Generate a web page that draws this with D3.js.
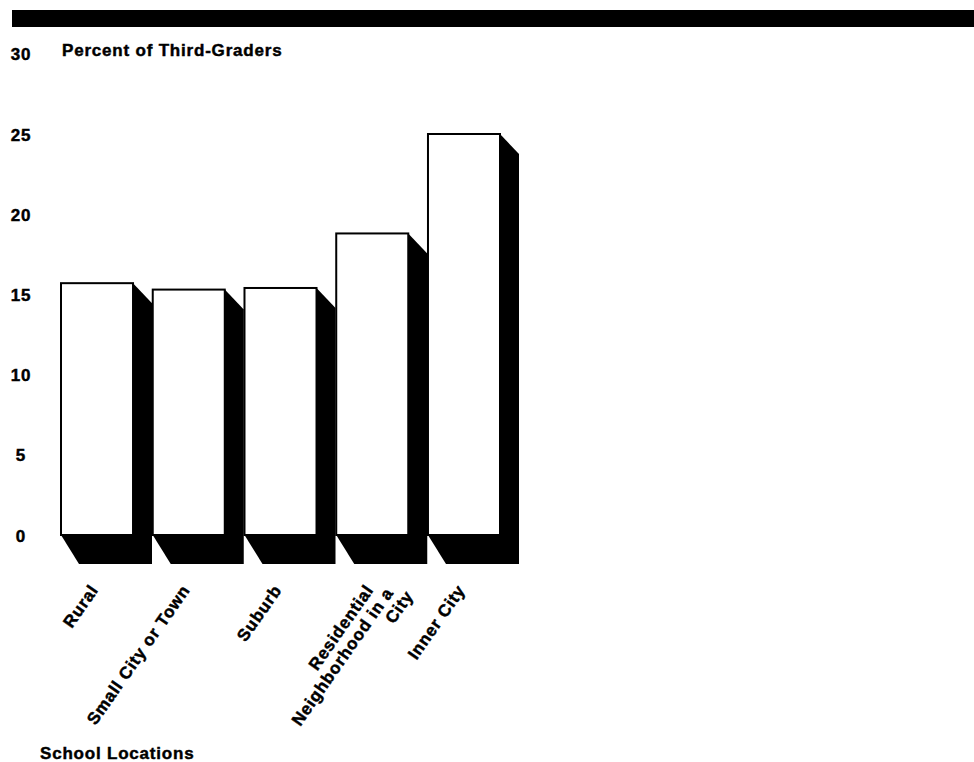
<!DOCTYPE html>
<html>
<head>
<meta charset="utf-8">
<script src="https://cdn.jsdelivr.net/npm/d3@7"></script>
<style>
  html, body { margin: 0; padding: 0; background: #fff; }
  svg { display: block; }
  text { font-family: "Liberation Sans", Arial, Helvetica, sans-serif; font-weight: bold; fill: #000; stroke: #000; stroke-width: 0.45px; }
</style>
</head>
<body>
<svg id="chart" width="974" height="762"></svg>
<script>
// School location categories (line breaks split long labels)
const categories = ["Rural", "Small City or Town", "Suburb", "Residential\nNeighborhood in a\nCity", "Inner City"];
// Percent of third-graders in each location
const percents = [15.7, 15.3, 15.4, 18.8, 25.0];
// Y-axis tick values
const yTicks = [0, 5, 10, 15, 20, 25, 30];

const svg = d3.select("#chart");

const x = d3.scaleBand()
  .domain(categories)
  .range([61, 500])
  .paddingInner(0.215)
  .paddingOuter(0);

const y = d3.scaleLinear()
  .domain([0, 30])
  .range([535, 53.8]);

const fontSize = "17px", spacing = "0.8px";

// Heavy rule across the top
svg.append("rect")
  .attr("x", 12).attr("y", 10)
  .attr("width", 962).attr("height", 17)
  .attr("fill", "#000");

// Y axis: labels only, no line or ticks
const yAxis = svg.append("g")
  .call(d3.axisLeft(y).tickValues(yTicks).tickSize(0).tickFormat(d3.format("d")));
yAxis.select(".domain").remove();
yAxis.selectAll("text")
  .attr("x", 21)
  .attr("dy", "0.36em")
  .attr("text-anchor", "middle")
  .style("font-family", "'Liberation Sans', Arial, sans-serif")
  .style("font-weight", "bold")
  .style("font-size", fontSize)
  .style("letter-spacing", spacing)
  .attr("fill", "#000");

// Axis title beside the top tick
svg.append("text")
  .attr("x", 62).attr("y", 56)
  .style("font-size", fontSize)
  .style("letter-spacing", spacing)
  .text("Percent of Third-Graders");

// Drop-shadow offsets for the 3D bars
const dx = 19, dyTop = 20, dyBottom = 29;

const bars = svg.append("g")
  .selectAll("g")
  .data(categories.map((c, i) => ({ cat: c, val: percents[i] })))
  .join("g");

// Shadow behind each bar
bars.append("path")
  .attr("fill", "#000")
  .attr("d", d => {
    const x0 = x(d.cat), x1 = x0 + x.bandwidth();
    const top = y(d.val), bot = y(0);
    return `M${x1},${top} L${x1 + dx},${top + dyTop} L${x1 + dx},${bot + dyBottom} L${x0 + dx - 1},${bot + dyBottom} L${x0},${bot} Z`;
  });

// White front face
bars.append("rect")
  .attr("x", d => x(d.cat))
  .attr("y", d => y(d.val))
  .attr("width", x.bandwidth())
  .attr("height", d => y(0) - y(d.val))
  .attr("fill", "#fff")
  .attr("stroke", "#000")
  .attr("stroke-width", 2);

// Rotated category labels
const angle = -55;
const lineH = 18, lineShift = 9;
const labels = svg.append("g");
categories.forEach(c => {
  const cx = x(c) + x.bandwidth() / 2 + 2;
  const lines = c.split("\n");
  const t = labels.append("text")
    .attr("transform", `translate(${cx},590) rotate(${angle})`)
    .attr("text-anchor", "end")
    .style("font-size", fontSize)
    .style("letter-spacing", spacing);
  lines.forEach((ln, i) => {
    t.append("tspan")
      .attr("x", i * lineShift)
      .attr("y", i * lineH)
      .text(ln);
  });
});

// X-axis title
svg.append("text")
  .attr("x", 40).attr("y", 759)
  .style("font-size", fontSize)
  .style("letter-spacing", spacing)
  .text("School Locations");
</script>
</body>
</html>
